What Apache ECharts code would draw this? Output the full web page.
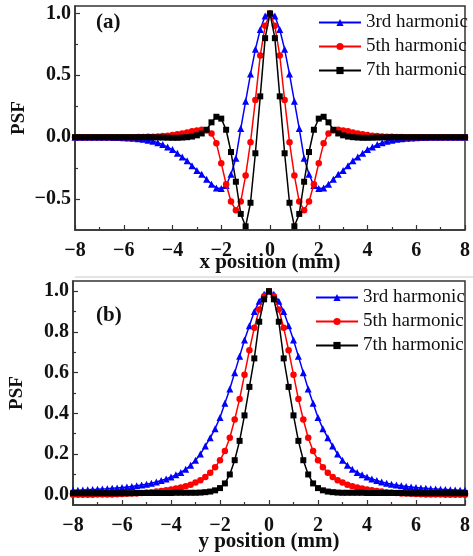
<!DOCTYPE html>
<html><head><meta charset="utf-8">
<script src="https://cdn.jsdelivr.net/npm/echarts@6/dist/echarts.min.js"></script>
<style>html,body{margin:0;padding:0;background:#fff}#c{width:473px;height:556px}</style>
</head><body><div id="c"></div>
<script>
// x positions (mm), shared by both panels
const xPos = [-8,-7.8,-7.6,-7.4,-7.2,-7,-6.8,-6.6,-6.4,-6.2,-6,-5.8,-5.6,-5.4,-5.2,-5,-4.8,-4.6,-4.4,-4.2,-4,-3.8,-3.6,-3.4,-3.2,-3,-2.8,-2.6,-2.4,-2.2,-2,-1.8,-1.6,-1.4,-1.2,-1,-0.8,-0.6,-0.4,-0.2,0,0.2,0.4,0.6,0.8,1,1.2,1.4,1.6,1.8,2,2.2,2.4,2.6,2.8,3,3.2,3.4,3.6,3.8,4,4.2,4.4,4.6,4.8,5,5.2,5.4,5.6,5.8,6,6.2,6.4,6.6,6.8,7,7.2,7.4,7.6,7.8,8];
const seriesNames = ['3rd harmonic','5th harmonic','7th harmonic'];

// Panel (a): PSF vs x position
const a3rd = [0,0,0,0,0,0,-0.001,-0.001,-0.002,-0.003,-0.004,-0.006,-0.008,-0.012,-0.017,-0.024,-0.033,-0.045,-0.06,-0.08,-0.10,-0.13,-0.16,-0.19,-0.23,-0.27,-0.30,-0.34,-0.38,-0.41,-0.415,-0.39,-0.30,-0.17,0.07,0.29,0.51,0.71,0.87,0.98,1.0,0.98,0.87,0.71,0.51,0.29,0.07,-0.17,-0.30,-0.39,-0.415,-0.41,-0.38,-0.34,-0.30,-0.27,-0.23,-0.19,-0.16,-0.13,-0.10,-0.08,-0.06,-0.045,-0.033,-0.024,-0.017,-0.012,-0.008,-0.006,-0.004,-0.003,-0.002,-0.001,-0.001,0,0,0,0,0,0];
const a5th = [0,0,0,0,0,0,0,0,0,0,0,0,0,0.001,0.002,0.003,0.004,0.006,0.009,0.012,0.017,0.023,0.03,0.038,0.047,0.055,0.06,0.055,0.03,-0.05,-0.21,-0.38,-0.52,-0.59,-0.52,-0.31,-0.04,0.30,0.66,0.90,1.0,0.90,0.66,0.30,-0.04,-0.31,-0.52,-0.59,-0.52,-0.38,-0.21,-0.05,0.03,0.055,0.06,0.055,0.047,0.038,0.03,0.023,0.017,0.012,0.009,0.006,0.004,0.003,0.002,0.001,0,0,0,0,0,0,0,0,0,0,0,0,0];
const a7th = [0,0,0,0,0,0,0,0,0,0,0,0,0,0,0,0,-0.001,-0.002,-0.003,-0.004,-0.005,-0.005,-0.003,0,0.005,0.015,0.03,0.06,0.12,0.165,0.15,0.06,-0.12,-0.36,-0.62,-0.72,-0.53,-0.13,0.33,0.80,1.0,0.80,0.33,-0.13,-0.53,-0.72,-0.62,-0.36,-0.12,0.06,0.15,0.165,0.12,0.06,0.03,0.015,0.005,0,-0.003,-0.005,-0.005,-0.004,-0.003,-0.002,-0.001,0,0,0,0,0,0,0,0,0,0,0,0,0,0,0,0];

// Panel (b): PSF vs y position
const b3rd = [0.022,0.023,0.024,0.025,0.026,0.027,0.029,0.030,0.032,0.034,0.036,0.038,0.041,0.044,0.048,0.052,0.057,0.063,0.07,0.078,0.088,0.098,0.11,0.125,0.145,0.17,0.20,0.24,0.28,0.325,0.38,0.45,0.52,0.60,0.68,0.76,0.83,0.90,0.95,0.985,1.0,0.985,0.95,0.90,0.83,0.76,0.68,0.60,0.52,0.45,0.38,0.325,0.28,0.24,0.20,0.17,0.145,0.125,0.11,0.098,0.088,0.078,0.07,0.063,0.057,0.052,0.048,0.044,0.041,0.038,0.036,0.034,0.032,0.030,0.029,0.027,0.026,0.025,0.024,0.023,0.022];
const b5th = [0,0,0,0,0,0.001,0.001,0.002,0.002,0.003,0.004,0.005,0.006,0.007,0.009,0.011,0.013,0.016,0.019,0.022,0.026,0.031,0.036,0.042,0.05,0.06,0.072,0.087,0.108,0.135,0.17,0.215,0.28,0.37,0.47,0.59,0.71,0.82,0.91,0.975,1.0,0.975,0.91,0.82,0.71,0.59,0.47,0.37,0.28,0.215,0.17,0.135,0.108,0.087,0.072,0.06,0.05,0.042,0.036,0.031,0.026,0.022,0.019,0.016,0.013,0.011,0.009,0.007,0.006,0.005,0.004,0.003,0.002,0.002,0.001,0.001,0,0,0,0,0];
const b7th = [0.008,0.008,0.008,0.008,0.008,0.008,0.008,0.008,0.008,0.008,0.008,0.008,0.008,0.009,0.009,0.009,0.009,0.009,0.009,0.009,0.009,0.010,0.010,0.010,0.010,0.010,0.011,0.013,0.016,0.022,0.033,0.056,0.10,0.17,0.265,0.39,0.53,0.67,0.85,0.96,1.0,0.96,0.85,0.67,0.53,0.39,0.265,0.17,0.10,0.056,0.033,0.022,0.016,0.013,0.011,0.010,0.010,0.010,0.010,0.010,0.009,0.009,0.009,0.009,0.009,0.009,0.009,0.009,0.008,0.008,0.008,0.008,0.008,0.008,0.008,0.008,0.008,0.008,0.008,0.008,0.008];

// tick labels
const xTicks = [-8,-6,-4,-2,0,2,4,6,8];
const aYTicks = [-0.5,0,0.5,1.0];
const aYMinor = [-0.25,0.25,0.75];
const bYTicks = [0,0.2,0.4,0.6,0.8,1.0];
const bYMinor = [0.1,0.3,0.5,0.7,0.9];

const SERIF = '"Liberation Serif","Times New Roman",serif';
const colors = ['#0000ff','#ff0000','#000000'];
const symbols = ['triangle','circle','rect'];
const symSizes = [7,6.5,6];

function fmt(v){ return (v<0?'\u2212':'') + (Math.abs(v) < 1e-9 ? '0.0' : Math.abs(v).toFixed(1)); }
function fmtX(v){ return (v<0?'\u2212':'') + Math.abs(v); }

const lineCol = '#333';
function xAxisCfg(gi, name, gap){
  return {
    type:'value', gridIndex:gi, min:-8, max:8, interval:2,
    name:name, nameLocation:'middle', nameGap:gap, nameMoveOverlap:false,
    nameTextStyle:{fontFamily:SERIF, fontWeight:'bold', fontSize:21, color:'#111'},
    axisLine:{onZero:false, lineStyle:{color:lineCol, width:1.5}},
    axisTick:{inside:true, length:5, lineStyle:{color:lineCol, width:1.2}},
    minorTick:{show:true, splitNumber:2, length:3, lineStyle:{color:lineCol, width:1.2}},
    splitLine:{show:false}, minorSplitLine:{show:false},
    axisLabel:{fontFamily:SERIF, fontWeight:'bold', fontSize:20, color:'#111', margin:11, formatter:fmtX}
  };
}
function yMain(gi, min, max, ticks){
  return {
    type:'value', gridIndex:gi, min:min, max:max,
    name:'PSF', nameLocation:'middle', nameGap:46, nameRotate:90, nameMoveOverlap:false,
    nameTextStyle:{fontFamily:SERIF, fontWeight:'bold', fontSize:19, color:'#111'},
    axisLine:{onZero:false, lineStyle:{color:lineCol, width:1.5}},
    axisTick:{inside:true, length:5, customValues:ticks, lineStyle:{color:lineCol, width:1.2}},
    axisLabel:{customValues:ticks, fontFamily:SERIF, fontWeight:'bold', fontSize:20, color:'#111', margin:4, formatter:fmt, showMinLabel:true, showMaxLabel:true},
    splitLine:{show:false}
  };
}
function yMinor(gi, min, max, ticks){
  return {
    type:'value', gridIndex:gi, min:min, max:max, position:'left',
    axisLine:{show:false, onZero:false},
    axisTick:{inside:true, length:3, customValues:ticks, lineStyle:{color:lineCol, width:1.2}},
    axisLabel:{show:false}, splitLine:{show:false}
  };
}
function mk(vals){ return xPos.map((x,i)=>[x, vals[i]]); }

const series = [];
[[a3rd,a5th,a7th],[b3rd,b5th,b7th]].forEach((grp, gi)=>{
  grp.forEach((vals, k)=>{
    series.push({
      type:'line', name:seriesNames[k], xAxisIndex:gi, yAxisIndex:gi*2,
      data:mk(vals), symbol:symbols[k], symbolSize:symSizes[k], showSymbol:true,
      lineStyle:{color:colors[k], width:1.5}, itemStyle:{color:colors[k]},
      animation:false, z:3+k
    });
  });
});

const legendBase = {
  orient:'vertical', itemWidth:42, itemHeight:9, itemGap:5, padding:0, selectedMode:false,
  data:seriesNames,
  textStyle:{fontFamily:SERIF, fontSize:19, color:'#111', lineHeight:18}
};

const chart = echarts.init(document.getElementById('c'), null, {renderer:'canvas'});
chart.setOption({
  backgroundColor:'#fff',
  animation:false,
  grid:[
    {left:75, right:5, top:6, height:224, show:true, borderColor:lineCol, borderWidth:1.5, backgroundColor:'transparent'},
    {left:73, right:5, top:281, height:224, show:true, borderColor:lineCol, borderWidth:1.5, backgroundColor:'transparent'}
  ],
  xAxis:[xAxisCfg(0,'x position (mm)',22), xAxisCfg(1,'y position (mm)',26)],
  yAxis:[
    yMain(0,-0.75,1.06,aYTicks), yMinor(0,-0.75,1.06,aYMinor),
    yMain(1,-0.05,1.05,bYTicks), yMinor(1,-0.05,1.05,bYMinor)
  ],
  legend:[
    Object.assign({left:318, top:13}, legendBase),
    Object.assign({left:315, top:288}, legendBase)
  ],
  graphic:[
    {type:'text', left:96, top:12, style:{text:'(a)', font:'bold 21px '+SERIF, fill:'#111'}},
    {type:'text', left:96, top:305, style:{text:'(b)', font:'bold 21px '+SERIF, fill:'#111'}},
    {type:'line', shape:{x1:75, y1:277, x2:473, y2:277}, style:{stroke:'#c8c8c8', lineWidth:1}}
  ],
  series:series
});
</script></body></html>
